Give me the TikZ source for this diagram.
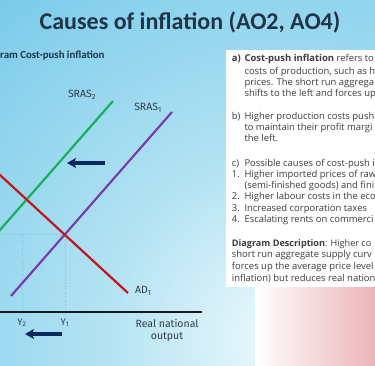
\documentclass[tikz,border=0pt]{standalone}
\usepackage{fontspec}
\setmainfont{Open Sans}
\newfontfamily\titlefont{Carlito}
\newfontfamily\chartfont{Fira Sans}
\usetikzlibrary{arrows.meta}
\definecolor{bgA}{HTML}{F0FAFD}
\definecolor{bgB}{HTML}{B4E3F3}
\definecolor{bgC}{HTML}{7FCDEB}
\definecolor{bgD}{HTML}{55BEE4}
\definecolor{bgE}{HTML}{27A8DB}
\definecolor{pinkR}{HTML}{E28E95}
\definecolor{navy}{HTML}{0B2A5C}
\definecolor{titlecol}{HTML}{1F3447}
\definecolor{labcol}{HTML}{2D3E4A}
\definecolor{txtcol}{HTML}{3C3C3C}
\definecolor{adred}{HTML}{C3161C}
\definecolor{srgreen}{HTML}{17B159}
\definecolor{srpurple}{HTML}{7A3BB0}
\definecolor{dotcol}{HTML}{7CC2DE}
\pgfdeclareradialshading{bgshade}{\pgfpoint{0bp}{0bp}}{color(0bp)=(bgA); color(10bp)=(bgB); color(23bp)=(bgC); color(32bp)=(bgD); color(49bp)=(bgE); color(50bp)=(bgE)}
\pgfdeclarehorizontalshading{pinkshade}{100bp}{color(0bp)=(bgA); color(25bp)=(white); color(100bp)=(pinkR)}
\tikzset{
  curve/.style={line width=2.2pt},
  chartlab/.style={font=\chartfont\fontsize{10.5}{12}\selectfont, text=labcol, inner sep=0pt},
  boxtxt/.style={anchor=base west, inner sep=0pt, text=txtcol, font=\fontsize{9.45}{11}\selectfont},
  guide/.style={dotcol, line width=0.6pt, dotted},
  shiftarrow/.style={navy, line width=3.2pt, -{Stealth[length=9pt,width=10pt,inset=2pt]}}
}
\begin{document}
\begin{tikzpicture}[x=1pt,y=-1pt]
\useasboundingbox (0,0) rectangle (375,366);
\clip (0,0) rectangle (375,366);
\fill[bgE] (0,0) rectangle (375,366);
\shade[shading=bgshade] (290,340) circle (460);
\shade[shading=pinkshade] (255,287) rectangle (376,367);
\fill[white] (226,50) rectangle (380,287);
% title and heading
\node[font=\titlefont\bfseries\fontsize{24}{28}\selectfont, text=titlecol] (title) at (190,22) {Causes of inflation (AO2, AO4)};
\node[anchor=base west, inner sep=0pt, font=\titlefont\bfseries\fontsize{10.8}{13}\selectfont, text=titlecol] (heading) at (0,58.5) {ram Cost-push inflation};
% guides
\coordinate (e1) at (65,234.6);
\coordinate (e1l) at (-1,234.6);
\coordinate (y1b) at (65,315);
\coordinate (e2) at (22,234.6);
\coordinate (y2b) at (22,315);
\draw[guide] (e1l) -- (e1) -- (y1b);
\draw[guide] (e2) -- (y2b);
% curves
\coordinate (ad0) at (-5,170.4);
\coordinate (ad1) at (128,293);
\coordinate (s20) at (-5,235.7);
\coordinate (s21) at (113,101);
\coordinate (s10) at (11,296);
\coordinate (s11) at (172,112);
\draw[curve, srpurple] (s10) -- (s11);
\draw[curve, srgreen] (s20) -- (s21);
\draw[curve, adred] (ad0) -- (ad1);
% axis
\coordinate (ax0) at (-2,312);
\coordinate (ax1) at (202,312);
\draw[line width=1.6pt, black!90] (ax0) -- (ax1);
% labels
\node[chartlab] (lsras2) at (82,95) {SRAS\textsubscript{2}};
\node[chartlab] (lsras1) at (148,108) {SRAS\textsubscript{1}};
\node[chartlab, anchor=west] (lad) at (135,291) {AD\textsubscript{1}};
\node[chartlab, font=\chartfont\fontsize{9.5}{11}\selectfont] (ly2) at (22,323) {Y\textsubscript{2}};
\node[chartlab, font=\chartfont\fontsize{9.5}{11}\selectfont] (ly1) at (65,323) {Y\textsubscript{1}};
\node[chartlab, align=center] (lx) at (167,331) {Real national\\output};
% arrows
\coordinate (a1s) at (105,163);
\coordinate (a1e) at (67,163);
\draw[shiftarrow] (a1s) -- (a1e);
\coordinate (a2s) at (62,334);
\coordinate (a2e) at (25,334);
\draw[shiftarrow] (a2s) -- (a2e);
% box text
\node[boxtxt] (ta0) at (231.7,62) {\textbf{a)}};
\node[boxtxt] (ta1) at (244.3,62) {\textbf{Cost-push inflation} refers to};
\node[boxtxt] (ta2) at (244.3,74.7) {costs of production, such as h};
\node[boxtxt] (ta3) at (244.3,85.3) {prices. The short run aggrega};
\node[boxtxt] (ta4) at (244.3,96.3) {shifts to the left and forces up};
\node[boxtxt] (tb0) at (231.7,119.7) {b)};
\node[boxtxt] (tb1) at (244.3,119.7) {Higher production costs push};
\node[boxtxt] (tb2) at (244.3,130.7) {to maintain their profit margi};
\node[boxtxt] (tb3) at (244.3,142) {the left.};
\node[boxtxt] (tc0) at (231.7,166.3) {c)};
\node[boxtxt] (tc1) at (244.3,166.3) {Possible causes of cost-push i};
\node[boxtxt] (t10) at (231.7,177.3) {1.};
\node[boxtxt] (t11) at (244.3,177.3) {Higher imported prices of raw};
\node[boxtxt] (t12) at (244.3,189) {(semi-finished goods) and fini};
\node[boxtxt] (t20) at (231.7,199.7) {2.};
\node[boxtxt] (t21) at (244.3,199.7) {Higher labour costs in the eco};
\node[boxtxt] (t30) at (231.7,211.3) {3.};
\node[boxtxt] (t31) at (244.3,211.3) {Increased corporation taxes};
\node[boxtxt] (t40) at (231.7,223) {4.};
\node[boxtxt] (t41) at (244.3,223) {Escalating rents on commerci};
\node[boxtxt, font=\fontsize{9.1}{11}\selectfont] (td1) at (231.7,246.3) {\textbf{Diagram Description}: Higher co};
\node[boxtxt] (td2) at (231.7,258) {short run aggregate supply curv};
\node[boxtxt] (td3) at (231.7,269.7) {forces up the average price level};
\node[boxtxt] (td4) at (231.7,281.3) {inflation) but reduces real nation};
\end{tikzpicture}
\end{document}
